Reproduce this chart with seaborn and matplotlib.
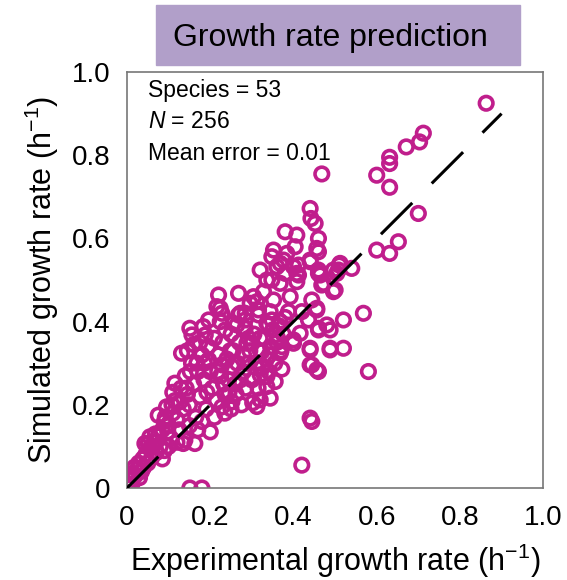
import numpy as np
import pandas as pd
import seaborn as sns
import matplotlib.pyplot as plt
from matplotlib.patches import Rectangle

# experimental (x) vs simulated (y) growth rates
exp_rate = [
    # sparse upper-right
    0.863, 0.712, 0.703, 0.671, 0.631, 0.631, 0.600, 0.631, 0.700, 0.600,
    0.631, 0.652, 0.510, 0.540, 0.512, 0.508, 0.500, 0.568, 0.520, 0.488,
    0.440, 0.488, 0.520, 0.580, 0.460, 0.440, 0.440, 0.444, 0.420, 0.468,
    0.496, 0.504, 0.496, 0.480, 0.472, 0.460, 0.456, 0.436, 0.416, 0.400,
    0.456, 0.444,
    # mid-upper cluster
    0.440, 0.442, 0.452, 0.380, 0.408, 0.460, 0.352, 0.404, 0.460, 0.348,
    0.376, 0.440, 0.400, 0.320, 0.360, 0.412, 0.464, 0.336, 0.368, 0.468,
    0.456, 0.384, 0.368, 0.412, 0.460, 0.380, 0.348, 0.408, 0.440, 0.408,
    0.460, 0.352, 0.392, 0.444, 0.316, 0.344, 0.388, 0.420, 0.456, 0.336,
    0.368, 0.304, 0.328, 0.268, 0.220, 0.224, 0.272, 0.296, 0.312,
    # left-middle
    0.196, 0.224, 0.256, 0.284, 0.151, 0.183, 0.156, 0.188, 0.131, 0.236,
    0.216, 0.228, 0.268, 0.284, 0.316, 0.348, 0.284, 0.300, 0.320, 0.324,
    0.288, 0.368, 0.372, 0.440, 0.488, 0.460, 0.400, 0.340, 0.264,
    # lower band
    0.196, 0.228, 0.252, 0.244, 0.336, 0.320, 0.344, 0.320, 0.336, 0.200,
    0.163, 0.135, 0.228, 0.252, 0.236,
    0.005, 0.010, 0.015, 0.020, 0.025, 0.030, 0.012, 0.028, 0.035, 0.040,
    0.045, 0.050, 0.055, 0.060, 0.065, 0.070, 0.075, 0.080, 0.043, 0.051,
    0.055, 0.085, 0.090, 0.075,
    0.085, 0.090, 0.095, 0.100, 0.105, 0.110, 0.115, 0.120, 0.125, 0.127,
    0.130, 0.115, 0.110, 0.100, 0.120, 0.135,
    0.140, 0.145, 0.150, 0.155, 0.160, 0.165, 0.170, 0.175, 0.180, 0.185,
    0.190, 0.195, 0.200, 0.150, 0.170, 0.180, 0.145, 0.160, 0.139, 0.175,
    0.205, 0.210, 0.215, 0.220, 0.225, 0.230, 0.235, 0.240, 0.245, 0.250,
    0.255, 0.260, 0.265, 0.270, 0.275, 0.280, 0.210, 0.250, 0.262, 0.280,
    0.285, 0.290, 0.295, 0.300, 0.305, 0.310, 0.315, 0.320, 0.325, 0.330,
    0.335, 0.340, 0.345, 0.350, 0.355, 0.360, 0.365, 0.370, 0.375, 0.380,
    0.356, 0.372, 0.312, 0.302,
    # extra points in the dense band
    0.018, 0.038, 0.062, 0.068, 0.092, 0.098, 0.142, 0.168, 0.192, 0.218,
    0.232, 0.248, 0.272, 0.292, 0.318, 0.342, 0.362, 0.108, 0.152, 0.186,
    # bottom row
    0.151, 0.180,
]
sim_rate = [
    0.925, 0.853, 0.832, 0.820, 0.795, 0.780, 0.752, 0.723, 0.660, 0.572,
    0.564, 0.592, 0.536, 0.528, 0.540, 0.524, 0.476, 0.420, 0.404, 0.380,
    0.336, 0.336, 0.336, 0.280, 0.280, 0.296, 0.168, 0.160, 0.055, 0.755,
    0.524, 0.516, 0.472, 0.392, 0.492, 0.384, 0.432, 0.404, 0.372, 0.348,
    0.284, 0.296,
    0.672, 0.648, 0.636, 0.616, 0.608, 0.600, 0.572, 0.580, 0.568, 0.556,
    0.548, 0.548, 0.532, 0.524, 0.532, 0.512, 0.512, 0.500, 0.492, 0.488,
    0.576, 0.564, 0.540, 0.536, 0.524, 0.516, 0.500, 0.496, 0.544, 0.516,
    0.516, 0.452, 0.460, 0.452, 0.428, 0.424, 0.424, 0.424, 0.428, 0.396,
    0.400, 0.460, 0.472, 0.468, 0.464, 0.432, 0.420, 0.444, 0.448,
    0.404, 0.400, 0.396, 0.404, 0.384, 0.388, 0.368, 0.368, 0.324, 0.380,
    0.436, 0.420, 0.416, 0.420, 0.416, 0.404, 0.384, 0.348, 0.360, 0.328,
    0.348, 0.324, 0.340, 0.332, 0.332, 0.380, 0.356, 0.392, 0.392,
    0.308, 0.296, 0.292, 0.260, 0.244, 0.212, 0.216, 0.272, 0.268, 0.135,
    0.107, 0.107, 0.195, 0.207, 0.224,
    0.000, 0.020, 0.035, 0.030, 0.045, 0.025, 0.010, 0.060, 0.040, 0.050,
    0.080, 0.060, 0.095, 0.075, 0.110, 0.085, 0.125, 0.100, 0.107, 0.107,
    0.123, 0.070, 0.090, 0.175,
    0.140, 0.160, 0.195, 0.150, 0.120, 0.180, 0.210, 0.165, 0.140, 0.207,
    0.240, 0.252, 0.230, 0.100, 0.110, 0.190,
    0.270, 0.225, 0.200, 0.300, 0.250, 0.170, 0.280, 0.220, 0.320, 0.260,
    0.190, 0.340, 0.280, 0.150, 0.140, 0.160, 0.330, 0.345, 0.115, 0.350,
    0.240, 0.360, 0.210, 0.320, 0.270, 0.350, 0.180, 0.310, 0.230, 0.370,
    0.330, 0.250, 0.300, 0.350, 0.200, 0.280, 0.170, 0.190, 0.226, 0.320,
    0.240, 0.300, 0.330, 0.260, 0.370, 0.300, 0.240, 0.330, 0.290, 0.360,
    0.310, 0.280, 0.340, 0.380, 0.300, 0.350, 0.390, 0.330, 0.370, 0.410,
    0.256, 0.286, 0.196, 0.205,
    0.050, 0.070, 0.100, 0.130, 0.170, 0.135, 0.240, 0.300, 0.230, 0.280,
    0.250, 0.330, 0.260, 0.360, 0.300, 0.320, 0.360, 0.200, 0.280, 0.300,
    0.000, 0.000,
]
line_x = [0, 0.9]
line_y = [0, 0.9]
ticks = [0, 0.2, 0.4, 0.6, 0.8, 1.0]
tick_labels = ['0', '0.2', '0.4', '0.6', '0.8', '1.0']
notes = ['Species = 53', r'$\mathit{N}$ = 256', 'Mean error = 0.01']

df = pd.DataFrame({'exp': exp_rate, 'sim': sim_rate})

sns.set_style('white')
plt.rcParams['font.family'] = ['Liberation Sans', 'DejaVu Sans']
plt.rcParams['mathtext.fontset'] = 'custom'
plt.rcParams['mathtext.rm'] = 'Liberation Sans'
plt.rcParams['mathtext.it'] = 'Liberation Sans:italic'
plt.rcParams['mathtext.default'] = 'regular'
plt.rcParams['text.color'] = 'black'
plt.rcParams['axes.labelcolor'] = 'black'
plt.rcParams['xtick.color'] = 'black'
plt.rcParams['ytick.color'] = 'black'

fig = plt.figure(figsize=(5.67, 5.80), dpi=100)
ax = fig.add_axes([0.224, 0.1586, 0.734, 0.7172])

magenta = '#C01E8C'
sns.scatterplot(data=df, x='exp', y='sim', ax=ax, s=95, marker='o',
                facecolor='none', edgecolor=magenta, linewidth=2.6, zorder=2)
sns.lineplot(x=line_x, y=line_y, ax=ax, color='black', lw=2.2,
             dashes=False, zorder=3).lines[0].set_dashes([14.5, 9])

ax.set_xlim(0, 1)
ax.set_ylim(0, 1)
ax.set_xticks(ticks)
ax.set_xticklabels(tick_labels)
ax.set_yticks(ticks)
ax.set_yticklabels(tick_labels)
ax.tick_params(direction='in', length=7, width=1.2, color='#555555',
               labelsize=20, pad=12)
for sp in ax.spines.values():
    sp.set_color('#777777')
    sp.set_linewidth(1.2)

ax.set_xlabel('Experimental growth rate (h$^{-1}$)', fontsize=22, labelpad=8)
ax.set_ylabel('Simulated growth rate (h$^{-1}$)', fontsize=22, labelpad=8)

for i, t in enumerate(notes):
    ax.text(0.05, 0.955 - i * 0.075, t, transform=ax.transAxes,
            fontsize=16.5, va='center', ha='left')

# title banner
fig.patches.append(Rectangle((0.275, 0.888), 0.642, 0.1034,
                             transform=fig.transFigure, color='#B19FC9',
                             zorder=0))
fig.text(0.583, 0.935, 'Growth rate prediction', fontsize=23,
         ha='center', va='center')

fig.savefig('out.png', dpi=100)
